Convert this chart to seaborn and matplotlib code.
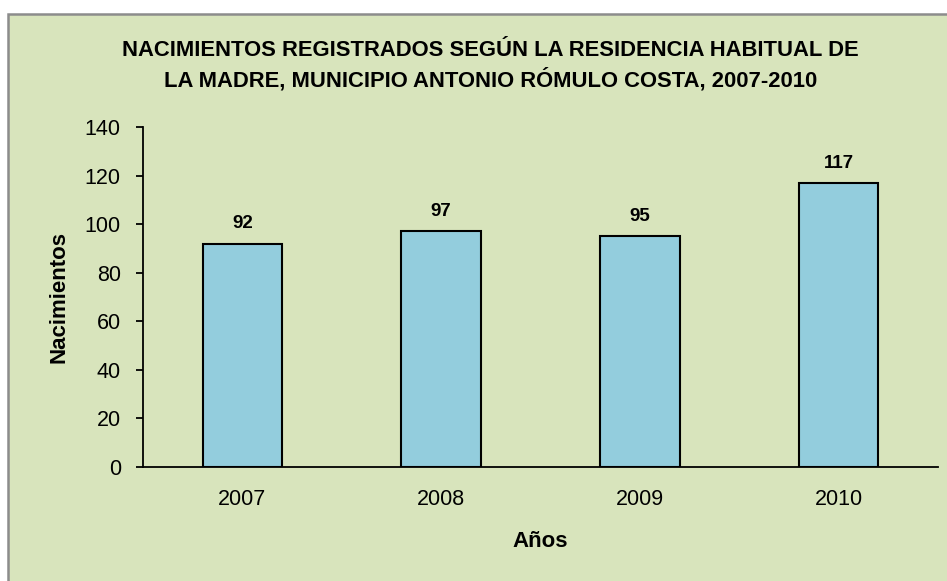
import matplotlib
matplotlib.use('Agg')
import matplotlib.pyplot as plt
import seaborn as sns
from matplotlib.patches import Rectangle

# datos
anios = ['2007', '2008', '2009', '2010']
nacimientos = [92, 97, 95, 117]

titulo = ('NACIMIENTOS REGISTRADOS SEGÚN LA RESIDENCIA HABITUAL DE\n'
          'LA MADRE, MUNICIPIO ANTONIO RÓMULO COSTA, 2007-2010')

sns.set_style('ticks')
plt.rcParams['font.family'] = ['Liberation Sans', 'DejaVu Sans']
plt.rcParams['text.color'] = 'black'
plt.rcParams['axes.labelcolor'] = 'black'
plt.rcParams['xtick.color'] = 'black'
plt.rcParams['ytick.color'] = 'black'

fig = plt.figure(figsize=(9.47, 5.81), dpi=100)
fig.patch.set_facecolor('white')
fondo = Rectangle((8 / 947, -0.01), 1.0, 1 - 14 / 581 + 0.01, transform=fig.transFigure,
                  facecolor='#D8E4BC', edgecolor='#8C8C8C', linewidth=1.8, zorder=-5)
fig.patches.append(fondo)

ax = fig.add_axes([143 / 947, 1 - 467 / 581, 795 / 947, 340 / 581])
ax.set_facecolor('none')
ax.set_zorder(2)

sns.barplot(x=anios, y=nacimientos, color='#93CDDD', edgecolor='black',
            linewidth=1.5, width=0.4, saturation=1, ax=ax)

for i, v in enumerate(nacimientos):
    ax.annotate(str(v), (i, v), xytext=(0, 8), textcoords='offset points',
                ha='center', va='bottom', fontsize=13.5, fontweight='bold')

ax.set_ylim(0, 140)
ax.set_yticks(range(0, 141, 20))
ax.set_xlim(-0.5, 3.5)

for s in ['top', 'right']:
    ax.spines[s].set_visible(False)
for s in ['left', 'bottom']:
    ax.spines[s].set_linewidth(1.3)
    ax.spines[s].set_color('black')

ax.tick_params(axis='y', length=5, width=1.3, pad=11, labelsize=15.5)
ax.tick_params(axis='x', length=0, pad=16, labelsize=15.5)

ax.set_xlabel('Años', fontsize=16, fontweight='bold', labelpad=15)
ax.set_ylabel('Nacimientos', fontsize=16, fontweight='bold', labelpad=11)

fig.text(0.518, 1 - 66 / 581, titulo, ha='center', va='center', fontsize=15.8,
         fontweight='bold', linespacing=1.4)

fig.savefig('out.png', dpi=100)
